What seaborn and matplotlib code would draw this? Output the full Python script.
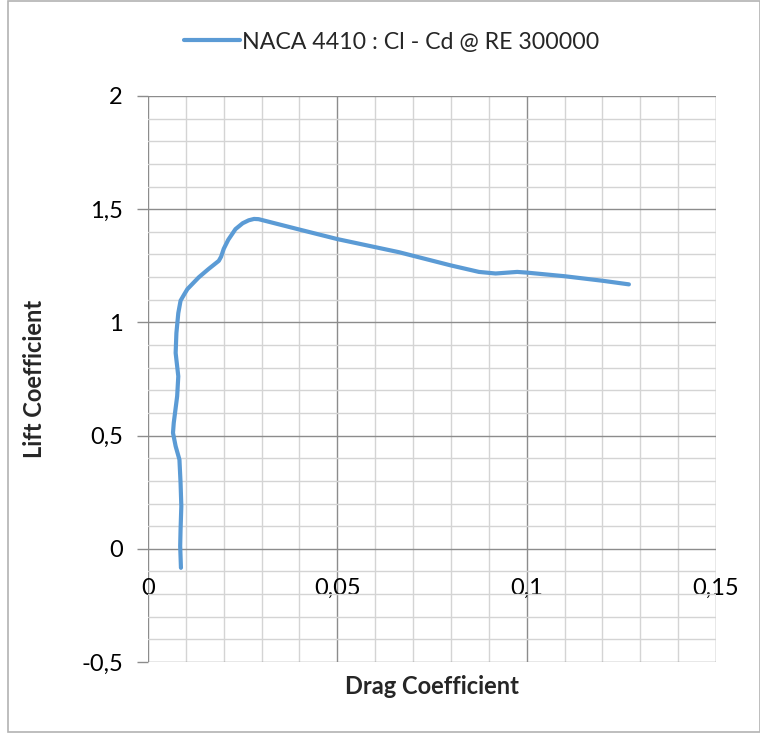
import numpy as np
import pandas as pd
import matplotlib.pyplot as plt
import matplotlib.patches as mpatches
import seaborn as sns

# polar, ordered along the curve
cd = [0.0087, 0.0085, 0.0086, 0.0088, 0.0086, 0.0083, 0.0073, 0.0066, 0.0068,
      0.0077, 0.0080, 0.0073, 0.0075, 0.0080, 0.0086, 0.0095, 0.0104, 0.0134,
      0.0160, 0.0187, 0.0193, 0.0200, 0.0212, 0.0231, 0.0250, 0.0266, 0.0280,
      0.0292, 0.0400, 0.0500, 0.0663, 0.0799, 0.0874, 0.0918, 0.0975, 0.1000,
      0.1100, 0.1200, 0.1270]
cl = [-0.084, 0.012, 0.085, 0.188, 0.291, 0.394, 0.453, 0.512, 0.556,
      0.674, 0.762, 0.865, 0.953, 1.041, 1.096, 1.122, 1.147, 1.199,
      1.236, 1.272, 1.290, 1.325, 1.365, 1.412, 1.438, 1.451, 1.457,
      1.456, 1.410, 1.368, 1.310, 1.252, 1.223, 1.216, 1.223, 1.220,
      1.204, 1.184, 1.168]

x_ticks = [0, 0.05, 0.1, 0.15]
x_labels = ["0", "0,05", "0,1", "0,15"]
y_ticks = [-0.5, 0, 0.5, 1, 1.5, 2]
y_labels = ["-0,5", "0", "0,5", "1", "1,5", "2"]

series_name = "NACA 4410 : Cl - Cd @ RE 300000"

sns.set_theme(style="white")
plt.rcParams['font.family'] = ['Lato', 'DejaVu Sans']

W, H = 760, 733
fig = plt.figure(figsize=(W / 100, H / 100), dpi=100)
left, right, top, bottom = 148, 716, 96, 662
ax = fig.add_axes([left / W, 1 - bottom / H, (right - left) / W, (bottom - top) / H])

df = pd.DataFrame({'Drag': cd, 'Lift': cl})
sns.lineplot(data=df, x='Drag', y='Lift', sort=False, estimator=None,
             color='#5B9BD5', lw=3.0, ax=ax, label=series_name, legend=False)
ax.lines[0].set_solid_joinstyle('round')
ax.lines[0].set_solid_capstyle('round')

ax.set_xlim(0, 0.15)
ax.set_ylim(-0.5, 2)
ax.set_xticks(x_ticks)
ax.set_xticklabels(x_labels)
ax.set_yticks(y_ticks)
ax.set_yticklabels(y_labels)
ax.set_xticks(np.arange(0, 0.1501, 0.01), minor=True)
ax.set_yticks(np.arange(-0.5, 2.001, 0.1), minor=True)

ax.grid(which='minor', color='#d4d4d4', lw=1.0, zorder=0)
ax.grid(which='major', color='#8c8c8c', lw=1.0, zorder=0)
ax.set_axisbelow(True)

for s in ax.spines.values():
    s.set_visible(False)
ax.spines['bottom'].set_position(('data', 0))

ax.tick_params(axis='x', which='major', length=0, pad=21, labelsize=17, colors='black')
ax.tick_params(axis='y', which='major', length=8, width=1, color='#8c8c8c',
               direction='out', pad=10, labelsize=17, labelcolor='black', left=True)
ax.tick_params(which='minor', length=0)

ax.set_xlabel('Drag Coefficient', fontsize=17, fontweight='bold', va='center')
ax.xaxis.set_label_coords(0.5, (bottom - 686) / (bottom - top))
ax.set_ylabel('Lift Coefficient', fontsize=17, fontweight='bold', va='center')
ax.yaxis.set_label_coords((35 - left) / (right - left), 0.5)

handles, labels = ax.get_legend_handles_labels()
fig.legend(handles, labels, loc='center', bbox_to_anchor=(392 / W, 1 - 42 / H),
           frameon=False, fontsize=16.7, handlelength=2.4, handletextpad=0.1)

fig.patches.append(mpatches.Rectangle((8 / W, 1 - 732 / H), (W - 8) / W, (731) / H,
                                      transform=fig.transFigure, fill=False,
                                      edgecolor='#b3b3b3', lw=1.2))

plt.savefig('out.png', dpi=100)
plt.close()
